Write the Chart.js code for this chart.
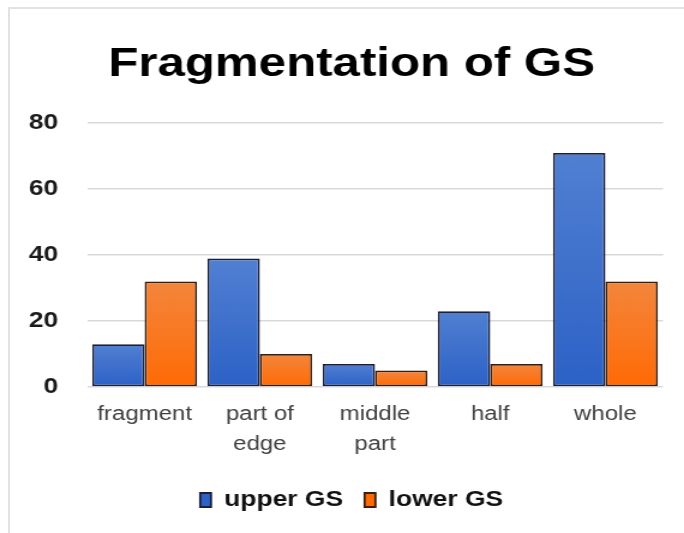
<!DOCTYPE html>
<html>
<head>
<meta charset="utf-8">
<script src="https://cdn.jsdelivr.net/npm/chart.js@4/dist/chart.umd.min.js"></script>
<style>
  html, body { margin: 0; padding: 0; background: #fff; }
  #frame { position: absolute; left: 8px; top: 7px; width: 676px; height: 526px;
           border-left: 2px solid #e2e2e2; border-top: 2px solid #e2e2e2; }
  #grafica { position: absolute; left: 0; top: 0; }
</style>
</head>
<body>
<div id="frame"></div>
<canvas id="grafica" width="570" height="533" style="width:684px;height:533px"></canvas>
<script>
const categorias = [['fragment'], ['part of', 'edge'], ['middle', 'part'], ['half'], ['whole']];
const superior = [13, 39, 7, 23, 71];
const inferior = [32, 10, 5, 7, 32];
const marcasY = [0, 20, 40, 60, 80];

// degradado vertical de cada barra, del valor hasta la base
function degradado(ctx, claro, oscuro) {
  const chart = ctx.chart;
  if (!chart.chartArea || ctx.parsed === undefined) return oscuro;
  const y = chart.scales.y;
  const arriba = y.getPixelForValue(ctx.parsed.y);
  const abajo = y.getPixelForValue(0);
  const g = chart.ctx.createLinearGradient(0, arriba, 0, abajo);
  g.addColorStop(0, claro);
  g.addColorStop(1, oscuro);
  return g;
}

const ctx = document.getElementById('grafica').getContext('2d');
const grafica = new Chart(ctx, {
  type: 'bar',
  data: {
    labels: categorias,
    datasets: [
      {
        label: 'upper GS',
        data: superior,
        backgroundColor: c => degradado(c, '#5180d2', '#2c61c6'),
        borderColor: '#1b1f3a',
        borderWidth: 1.8,
        borderSkipped: false,
        categoryPercentage: 0.91,
        barPercentage: 1.0
      },
      {
        label: 'lower GS',
        data: inferior,
        backgroundColor: c => degradado(c, '#f3863c', '#ff6a05'),
        borderColor: '#3a1c0c',
        borderWidth: 1.8,
        borderSkipped: false,
        categoryPercentage: 0.91,
        barPercentage: 1.0
      }
    ]
  },
  options: {
    responsive: false,
    devicePixelRatio: 1,
    animation: false,
    layout: { padding: { left: 21, right: 5, top: 0, bottom: 12 } },
    plugins: {
      title: {
        display: true,
        text: 'Fragmentation of GS',
        color: '#000',
        font: { family: 'Liberation Sans', size: 41, weight: 'bold', lineHeight: 1.2 },
        padding: { top: 40, bottom: 34 }
      },
      legend: {
        position: 'bottom',
        labels: {
          color: '#111',
          font: { family: 'Liberation Sans', size: 22, weight: 'bold' },
          boxWidth: 9,
          boxHeight: 14,
          padding: 18
        }
      },
      tooltip: { enabled: false }
    },
    scales: {
      x: {
        grid: { display: false, drawTicks: false },
        border: { display: false },
        ticks: {
          color: '#404040',
          font: { family: 'Liberation Sans', size: 20, lineHeight: 1.5 },
          padding: 12,
          maxRotation: 0
        }
      },
      y: {
        min: 0,
        max: 80,
        afterFit: s => { s.width = 51.5; },
        afterBuildTicks: s => { s.ticks = marcasY.map(v => ({ value: v })); },
        grid: { color: '#d9d9d9', lineWidth: 1.5, drawTicks: false },
        border: { display: false },
        ticks: {
          color: '#1a1a1a',
          font: { family: 'Liberation Sans', size: 22, weight: 'bold' },
          padding: 24
        }
      },
      // margen vacío a la derecha del área de barras
      margen: {
        position: 'right',
        afterFit: s => { s.width = 12.5; },
        grid: { display: false, drawTicks: false },
        border: { display: false },
        ticks: { display: false }
      }
    }
  }
});
</script>
</body>
</html>
